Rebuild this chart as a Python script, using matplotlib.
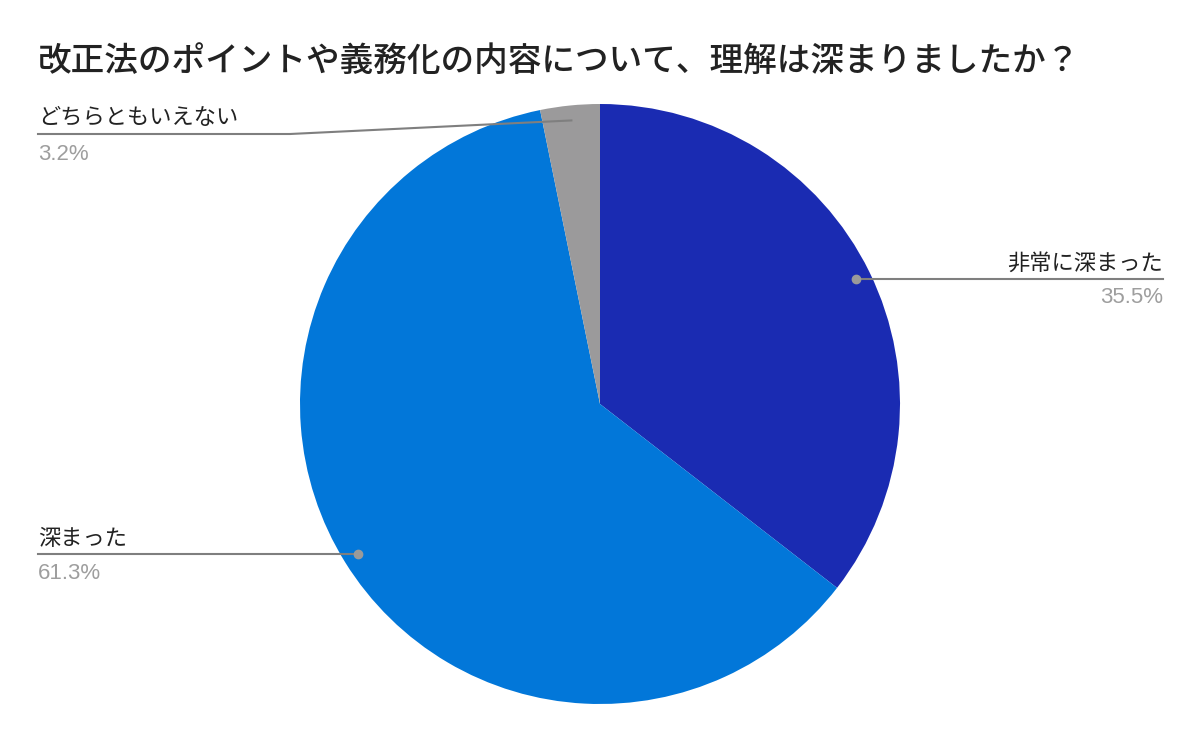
import numpy as np
import matplotlib
matplotlib.use("Agg")
import matplotlib.pyplot as plt

title = "改正法のポイントや義務化の内容について、理解は深まりましたか？"
labels = ["非常に深まった", "深まった", "どちらともいえない"]
values = [35.5, 61.3, 3.2]
colors = ["#1a2bb2", "#0277d9", "#9b9a9b"]

plt.rcParams['font.family'] = ['Noto Sans CJK JP', 'DejaVu Sans']

W, H = 1200, 742
fig = plt.figure(figsize=(W / 100, H / 100), dpi=100)
cx, cy, R = 600, 404, 300
ax = fig.add_axes([(cx - R) / W, (H - cy - R) / H, 2 * R / W, 2 * R / H])
wedges, _ = ax.pie(values, colors=colors, startangle=90, counterclock=False,
                   radius=1, wedgeprops=dict(linewidth=0))
ax.set_xlim(-1, 1)
ax.set_ylim(-1, 1)
ax.set_aspect('auto')
ax.axis('off')

ov = fig.add_axes([0, 0, 1, 1], facecolor='none')
ov.set_xlim(0, W)
ov.set_ylim(H, 0)
ov.axis('off')

fig.text(38 / W, 1 - 62 / H, title, fontsize=24.2, fontweight='medium', va='center', ha='left', color='#222222')

line_c = '#7f7f7f'
pct_c = '#9e9e9e'
fs = 16
total = sum(values)
cum = 0
for i, (lab, v) in enumerate(zip(labels, values)):
    mid = 90 - (cum + v / 2) / total * 360
    cum += v
    a = np.deg2rad(mid)
    px = cx + 0.95 * R * np.cos(a)
    py = cy - 0.95 * R * np.sin(a)
    pct = f"{v:.1f}%"
    if i == 0:
        ov.plot([px, 1163], [py, py], color=line_c, lw=1.5)
        ov.plot(px, py, 'o', color='#9a9a9a', ms=6)
        ov.text(1163, py - 15, lab, ha='right', va='center', fontsize=fs, color='#222222')
        ov.text(1163, py + 19, pct, ha='right', va='center', fontsize=fs, color=pct_c, family=['Liberation Sans', 'DejaVu Sans'])
    elif i == 1:
        ov.plot([px, 38], [py, py], color=line_c, lw=1.5)
        ov.plot(px, py, 'o', color='#9a9a9a', ms=6)
        ov.text(38, py - 16, lab, ha='left', va='center', fontsize=fs, color='#222222')
        ov.text(38, py + 19, pct, ha='left', va='center', fontsize=fs, color=pct_c, family=['Liberation Sans', 'DejaVu Sans'])
    else:
        ly = 134
        ov.plot([px, 290, 38], [py, ly, ly], color=line_c, lw=1.5)
        ov.text(38, ly - 16, lab, ha='left', va='center', fontsize=fs, color='#222222')
        ov.text(38, ly + 20, pct, ha='left', va='center', fontsize=fs, color=pct_c, family=['Liberation Sans', 'DejaVu Sans'])

fig.savefig("out.png", dpi=100, facecolor='white')
